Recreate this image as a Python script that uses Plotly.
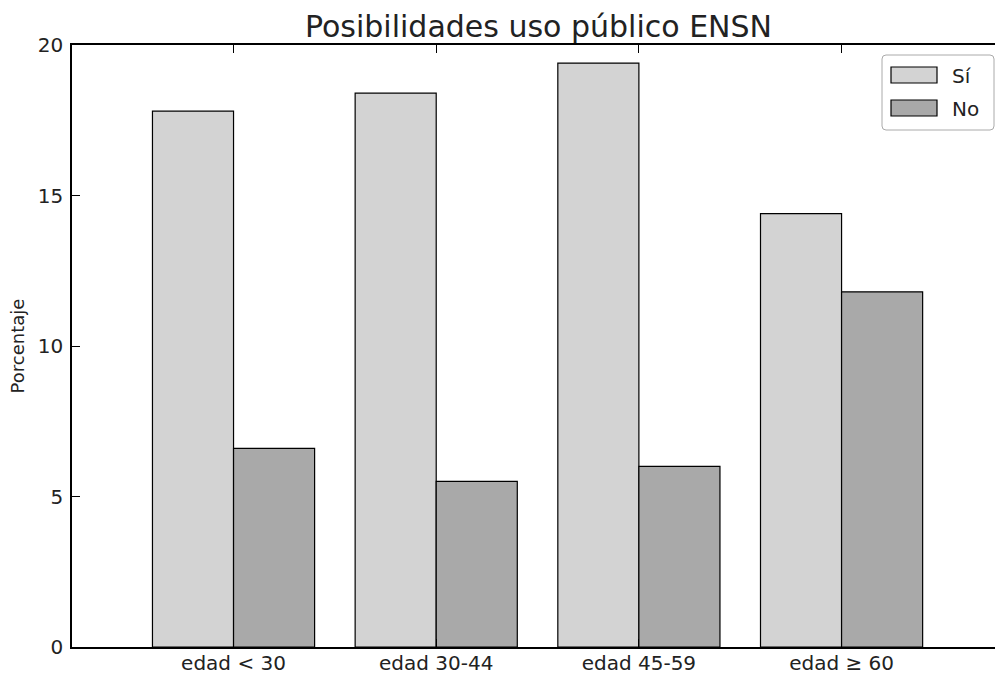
import plotly.graph_objects as go

categories = ["edad < 30", "edad 30-44", "edad 45-59", "edad \u2265 60"]
si_values = [17.8, 18.4, 19.4, 14.4]
no_values = [6.6, 5.5, 6.0, 11.8]
series_names = ["Sí", "No"]
series_colors = ["#d3d3d3", "#a9a9a9"]
yticks = [0, 5, 10, 15, 20]

FONT = "DejaVu Sans"
W, H = 995, 674
L, R, T, B = 72, 0, 45, 27
PW, PH = W - L - R, H - T - B


def px(x):
    return (x - L) / PW


def py(y):
    return (H - B - y) / PH


fig = go.Figure()
for name, vals, col in zip(series_names, [si_values, no_values], series_colors):
    fig.add_trace(go.Bar(x=categories, y=vals, name=name, showlegend=False,
                         marker=dict(color=col, line=dict(color="black", width=1.2))))

# custom legend (matplotlib style)
shapes = []
x0, x1, y0, y1, r = 882, 994, 55, 130, 4
path = (f"M {px(x0 + r)} {py(y0)} L {px(x1 - r)} {py(y0)} "
        f"Q {px(x1)} {py(y0)} {px(x1)} {py(y0 + r)} L {px(x1)} {py(y1 - r)} "
        f"Q {px(x1)} {py(y1)} {px(x1 - r)} {py(y1)} L {px(x0 + r)} {py(y1)} "
        f"Q {px(x0)} {py(y1)} {px(x0)} {py(y1 - r)} L {px(x0)} {py(y0 + r)} "
        f"Q {px(x0)} {py(y0)} {px(x0 + r)} {py(y0)} Z")
shapes.append(dict(type="path", xref="paper", yref="paper", path=path,
                   line=dict(color="#aaaaaa", width=1), fillcolor="white", layer="above"))
annotations = []
for i, (name, col) in enumerate(zip(series_names, series_colors)):
    cy = 75 + i * 33
    shapes.append(dict(type="rect", xref="paper", yref="paper",
                       x0=px(891), x1=px(937), y0=py(cy - 8), y1=py(cy + 8),
                       fillcolor=col, line=dict(color="black", width=1.2), layer="above"))
    annotations.append(dict(x=px(950), y=py(cy + 1), xref="paper", yref="paper",
                            text=name, showarrow=False, xanchor="left", yanchor="middle",
                            font=dict(size=20, color="#222222", family=FONT)))

fig.update_layout(
    width=W, height=H,
    margin=dict(l=L, r=R, t=T, b=B, autoexpand=False),
    paper_bgcolor="white", plot_bgcolor="white",
    font=dict(family=FONT, color="#222222", size=20),
    barmode="group", bargap=0.2, bargroupgap=0,
    title=dict(text="Posibilidades uso público ENSN", font=dict(size=30, color="#222222"),
               x=538.5 / W, xanchor="center", xref="container",
               y=1 - 26 / H, yanchor="middle", yref="container"),
    showlegend=False,
    shapes=shapes,
    annotations=annotations,
)
fig.update_xaxes(type="category", range=[-0.797, 3.757],
                 showline=True, linecolor="black", linewidth=1.5, mirror="ticks",
                 ticks="inside", ticklen=8, tickcolor="black", showgrid=False,
                 tickfont=dict(size=20, color="#222222"), ticklabelstandoff=-3,
                 automargin=False)
fig.update_yaxes(range=[0, 20], tickvals=yticks, ticktext=[str(v) for v in yticks],
                 showline=True, linecolor="black", linewidth=1.5,
                 ticks="inside", ticklen=8, tickcolor="black", showgrid=False, zeroline=False,
                 tickfont=dict(size=20, color="#222222"), ticklabelstandoff=3, automargin=False,
                 title=dict(text="Porcentaje", font=dict(size=18, color="#222222"), standoff=8))

fig.write_html("out.html", config={"displayModeBar": False},
               post_script="document.body.style.margin='0';")
